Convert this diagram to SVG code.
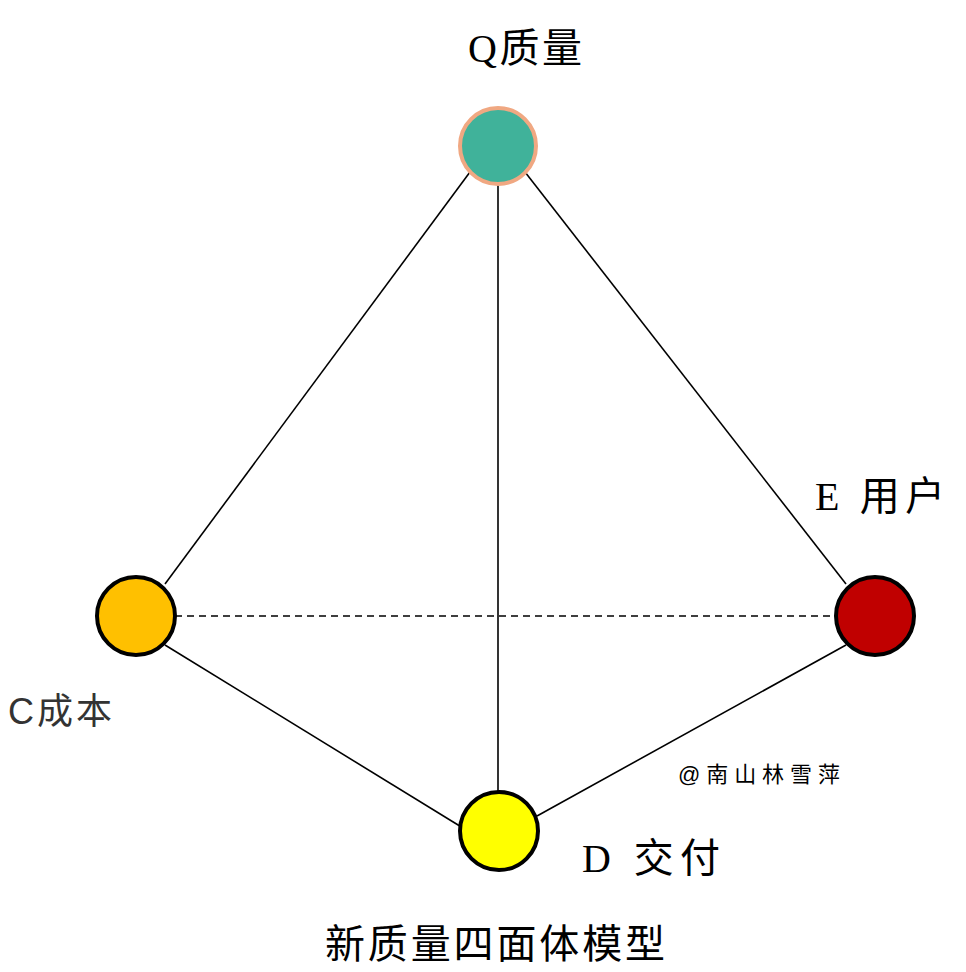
<svg xmlns="http://www.w3.org/2000/svg" width="966" height="972" viewBox="0 0 966 972">
<style>
.l{stroke:#000;stroke-width:1.6;fill:none}
.n{stroke:#000;stroke-width:4}
.t{font-family:"Liberation Serif","Noto Sans CJK SC",serif;font-size:40px;fill:#000}
</style>
<rect width="966" height="972" fill="#fff"/>
<g id="connectors">
<line class="l" x1="470" y1="172" x2="165" y2="584"/>
<line class="l" x1="525" y1="172" x2="846" y2="584"/>
<line class="l" x1="498" y1="184" x2="498" y2="793"/>
<line class="l" x1="175" y1="616" x2="836" y2="616" stroke-dasharray="7,5"/>
<line class="l" x1="165" y1="645" x2="463" y2="828"/>
<line class="l" x1="537" y1="816" x2="846" y2="645"/>
</g>
<g id="Q"><circle cx="498" cy="146" r="38" fill="#40b29a" stroke="#f0a882" stroke-width="4"/><text class="t" x="468" y="62" textLength="114" lengthAdjust="spacing">Q质量</text></g>
<g id="C"><circle class="n" cx="136" cy="616" r="39" fill="#ffc000"/><text x="8" y="724" font-family="Liberation Sans,Noto Sans CJK SC,sans-serif" font-size="36" fill="#333" textLength="104" lengthAdjust="spacing">C成本</text></g>
<g id="E"><circle class="n" cx="875" cy="616" r="39" fill="#c00000"/><text class="t" x="815" y="510" textLength="130" lengthAdjust="spacing">E 用户</text></g>
<g id="D"><circle class="n" cx="499" cy="831" r="39" fill="#ffff00"/><text class="t" x="582" y="872" textLength="138" lengthAdjust="spacing">D 交付</text></g>
<g id="watermark"><text x="678" y="782" font-family="Liberation Sans,Noto Sans CJK SC,sans-serif" font-size="22" fill="#000" textLength="162" lengthAdjust="spacing">@南山林雪萍</text></g>
<g id="title"><text class="t" x="325" y="958" textLength="340" lengthAdjust="spacing">新质量四面体模型</text></g>
</svg>
